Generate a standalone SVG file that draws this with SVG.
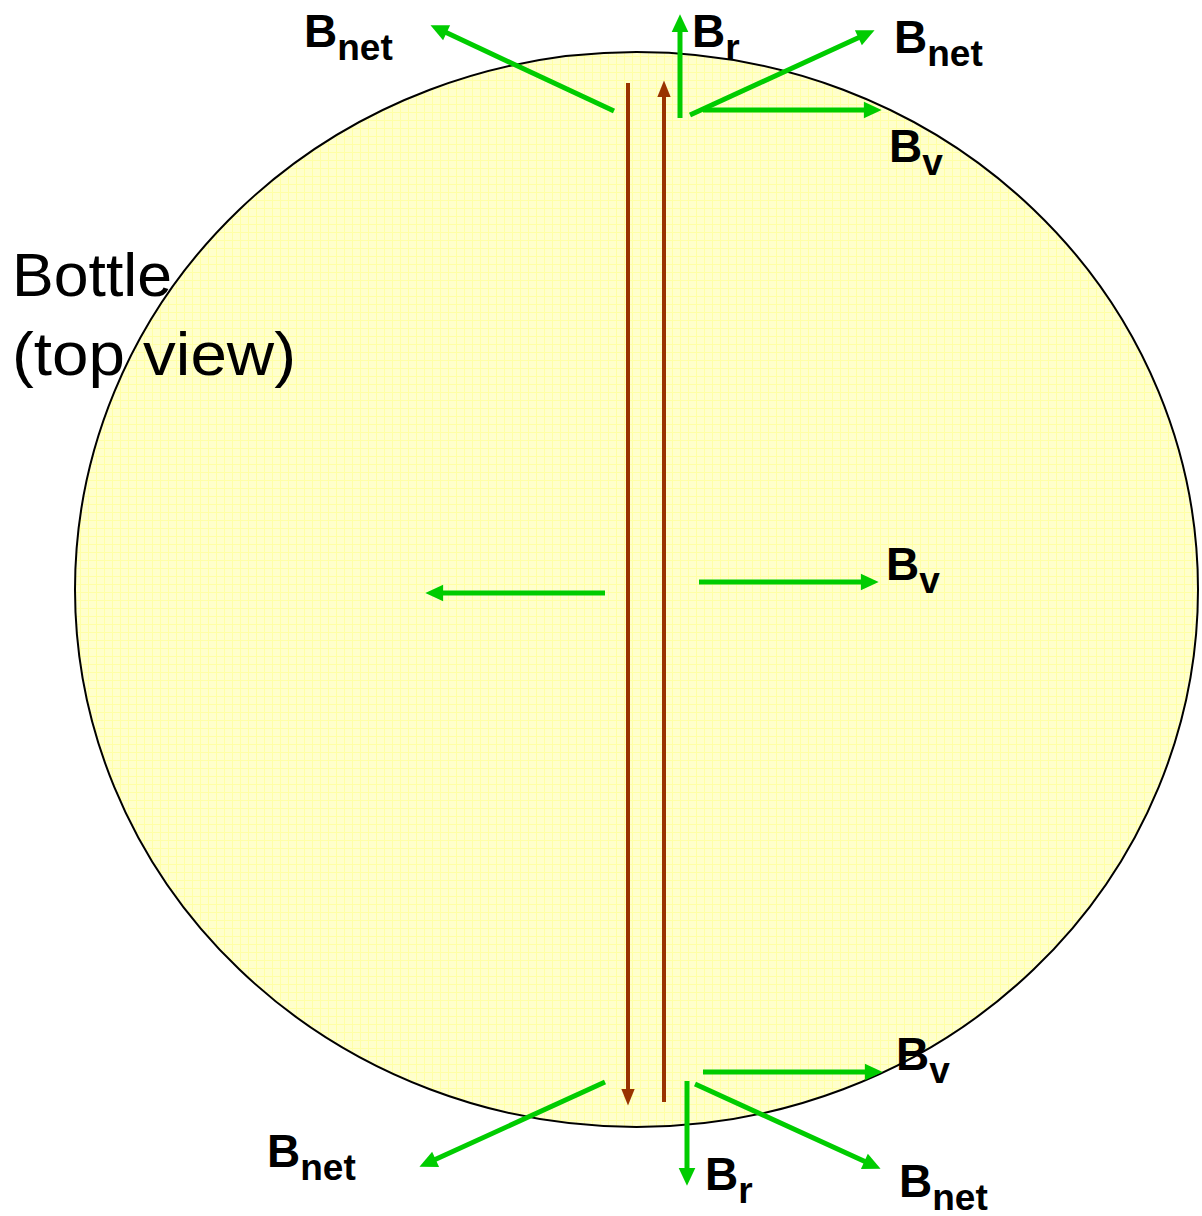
<svg xmlns="http://www.w3.org/2000/svg" width="1202" height="1216" viewBox="0 0 1202 1216">
<defs>
<pattern id="grid" width="8" height="8" patternUnits="userSpaceOnUse">
<rect width="8" height="8" fill="#ffffcc"/>
<path d="M0,0.5 H8 M0.5,0 V8" stroke="#ffffa6" stroke-width="1" fill="none"/>
</pattern>
<marker id="ag" markerUnits="userSpaceOnUse" orient="auto" markerWidth="20" markerHeight="20" refX="1" refY="0" viewBox="0 -8 18 16" overflow="visible">
<path d="M0,-7.5 L16,0 L0,7.5 z" fill="#00cc00"/>
</marker>
<marker id="ab" markerUnits="userSpaceOnUse" orient="auto" markerWidth="20" markerHeight="20" refX="1" refY="0" viewBox="0 -8 18 16" overflow="visible">
<path d="M0,-6 L15,0 L0,6 z" fill="#993300"/>
</marker>
</defs>
<style>
.g{stroke:#00cc00;stroke-width:5;fill:none;marker-end:url(#ag)}
.b{stroke:#993300;stroke-width:4;fill:none;marker-end:url(#ab)}
.lbl{font-family:"Liberation Sans",Arial,sans-serif;font-weight:bold;fill:#000}
.B{font-size:46px}
.s{font-size:37px}
.t{font-family:"Liberation Sans",Arial,sans-serif;font-size:61px;fill:#000}
</style>
<g id="bottle">
<ellipse cx="636.5" cy="589.5" rx="561.5" ry="537.5" fill="url(#grid)" stroke="#000" stroke-width="2"/>
</g>
<g id="bottle-label">
<text class="t" x="12" y="296" textLength="160" lengthAdjust="spacingAndGlyphs">Bottle</text>
<text class="t" x="12" y="375" textLength="284" lengthAdjust="spacingAndGlyphs">(top view)</text>
</g>
<g id="connectors">
<line class="b" x1="628" y1="83" x2="628" y2="1090"/>
<line class="b" x1="664" y1="1102" x2="664" y2="96"/>
<line class="g" x1="614" y1="111" x2="445.6" y2="32.3"/>
<line class="g" x1="680" y1="118" x2="680" y2="31"/>
<line class="g" x1="690" y1="115" x2="859.4" y2="37.3"/>
<line class="g" x1="703" y1="110" x2="865" y2="110"/>
<line class="g" x1="605" y1="593" x2="442" y2="593"/>
<line class="g" x1="699" y1="582" x2="862" y2="582"/>
<line class="g" x1="605" y1="1082" x2="434.6" y2="1159.8"/>
<line class="g" x1="687" y1="1081" x2="687" y2="1169"/>
<line class="g" x1="695" y1="1084" x2="865.4" y2="1161.8"/>
<line class="g" x1="703" y1="1072" x2="866" y2="1072"/>
</g>
<g id="labels">
<text class="lbl" x="304" y="47"><tspan class="B">B</tspan><tspan class="s" dy="13">net</tspan></text>
<text class="lbl" x="692" y="47"><tspan class="B">B</tspan><tspan class="s" dy="13">r</tspan></text>
<text class="lbl" x="894" y="53"><tspan class="B">B</tspan><tspan class="s" dy="13">net</tspan></text>
<text class="lbl" x="889" y="162"><tspan class="B">B</tspan><tspan class="s" dy="13">v</tspan></text>
<text class="lbl" x="886" y="580"><tspan class="B">B</tspan><tspan class="s" dy="13">v</tspan></text>
<text class="lbl" x="896" y="1070"><tspan class="B">B</tspan><tspan class="s" dy="13">v</tspan></text>
<text class="lbl" x="267" y="1167"><tspan class="B">B</tspan><tspan class="s" dy="13">net</tspan></text>
<text class="lbl" x="705" y="1190"><tspan class="B">B</tspan><tspan class="s" dy="13">r</tspan></text>
<text class="lbl" x="899" y="1197"><tspan class="B">B</tspan><tspan class="s" dy="13">net</tspan></text>
</g>
</svg>
